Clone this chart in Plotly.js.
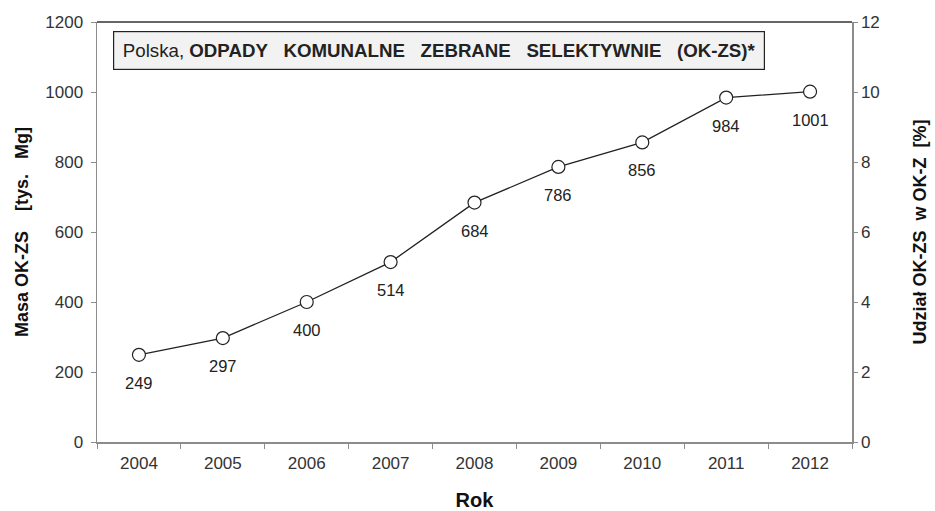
<!DOCTYPE html>
<html>
<head>
<meta charset="utf-8">
<script src="https://cdn.plot.ly/plotly-3.0.1.min.js"></script>
<style>html,body{margin:0;padding:0;background:#fff;}#chart{width:935px;height:511px;}</style>
</head>
<body>
<div id="chart"></div>
<script>
const years = ['2004','2005','2006','2007','2008','2009','2010','2011','2012'];
const masa = [249, 297, 400, 514, 684, 786, 856, 984, 1001];
const leftTicks = [0, 200, 400, 600, 800, 1000, 1200];
const rightTicks = [0, 2, 4, 6, 8, 10, 12];

const font = 'Liberation Sans, Arial, sans-serif';
const axisCol = '#8c8c8c';
const NB = '\u00a0';

const traces = [
  {
    x: years, y: masa, type: 'scatter', mode: 'lines+markers',
    line: {color: '#222', width: 1.3},
    marker: {symbol: 'circle', size: 13, color: '#fff', line: {color: '#222', width: 1.2}},
    cliponaxis: false, hoverinfo: 'skip'
  },
  { x: [], y: [], yaxis: 'y2', type: 'scatter', mode: 'lines', showlegend: false, hoverinfo: 'skip' }
];

// category axis: annotation x is the category index
const labelAnns = years.map((yr, i) => ({
  x: i, y: masa[i], xref: 'x', yref: 'y', text: String(masa[i]), showarrow: false,
  xanchor: 'center', yanchor: 'middle', yshift: -28,
  font: {family: font, size: 16.5, color: '#222'}
}));

const layout = {
  width: 935, height: 511,
  margin: {l: 97, r: 83, t: 22, b: 69},
  paper_bgcolor: '#fff', plot_bgcolor: '#fff',
  showlegend: false,
  font: {family: font, color: '#333', size: 17},
  xaxis: {
    type: 'category', categoryarray: years, range: [-0.5, years.length - 0.5],
    tickson: 'boundaries', ticks: 'outside', ticklen: 5, tickcolor: axisCol, tickangle: 0,
    showline: true, linecolor: axisCol, linewidth: 1.5, showgrid: false, zeroline: false,
    ticklabelstandoff: 5,
    tickfont: {family: font, size: 17, color: '#333'},
    title: {text: '<b>Rok</b>', font: {family: font, size: 20, color: '#111'}, standoff: 22}
  },
  yaxis: {
    range: [0, 1200], tickvals: leftTicks, ticks: 'outside', ticklen: 5, tickcolor: axisCol,
    showline: true, linecolor: axisCol, linewidth: 1.5, showgrid: false, zeroline: false,
    ticklabelstandoff: 4,
    tickfont: {family: font, size: 17, color: '#333'},
    title: {text: '<b>Masa OK-ZS' + NB + NB + NB + NB + '[tys.' + NB + NB + NB + 'Mg]</b>', font: {family: font, size: 18, color: '#111'}, standoff: 12}
  },
  yaxis2: {
    overlaying: 'y', side: 'right', range: [0, 12], tickvals: rightTicks, ticks: 'outside', ticklen: 4, tickcolor: axisCol,
    showline: true, linecolor: axisCol, linewidth: 1.5, showgrid: false, zeroline: false,
    tickfont: {family: font, size: 17, color: '#333'},
    title: {text: '<b>Udział OK-ZS' + NB + NB + 'w OK-Z' + NB + NB + '[%]</b>', font: {family: font, size: 18, color: '#111'}, standoff: 34}
  },
  shapes: [
    {type: 'line', xref: 'paper', yref: 'paper', x0: 0, x1: 1, y0: 1, y1: 1, line: {color: '#333', width: 1.5}}
  ],
  annotations: [
    {
      xref: 'paper', yref: 'paper', x: 0.453, y: 0.933, xanchor: 'center', yanchor: 'middle',
      text: 'Polska,' + NB + '<b>ODPADY' + NB + NB + NB + 'KOMUNALNE' + NB + NB + NB + 'ZEBRANE' + NB + NB + NB + 'SELEKTYWNIE' + NB + NB + NB + '(OK-ZS)*</b>',
      showarrow: false, font: {family: font, size: 18.7, color: '#222'},
      bgcolor: '#f2f2f2', bordercolor: '#222', borderwidth: 1.2, width: 648, height: 35
    }
  ].concat(labelAnns)
};

Plotly.newPlot('chart', traces, layout, {displayModeBar: false, staticPlot: true});
</script>
</body>
</html>
